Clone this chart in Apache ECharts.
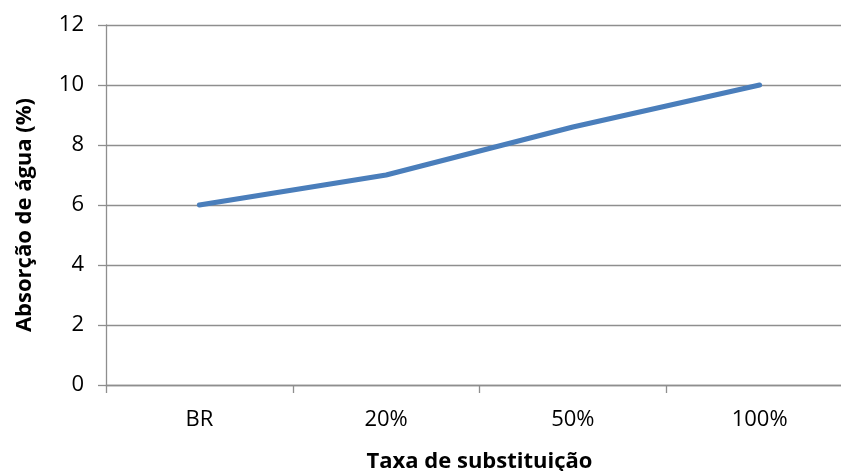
<!DOCTYPE html>
<html>
<head>
<meta charset="utf-8">
<style>
  html, body { margin: 0; padding: 0; background: #ffffff; }
  #chart { width: 841px; height: 471px; }
</style>
<script src="https://cdn.jsdelivr.net/npm/echarts@6/dist/echarts.min.js"></script>
</head>
<body>
<div id="chart"></div>
<script>
// Water absorption by replacement rate
const categories = ['BR', '20%', '50%', '100%'];
const absorcao = [6, 7, 8.6, 10];
const yMin = 0, yMax = 12, yStep = 2;

const gridGray = '#8e8e8e';
const textColor = '#000000';
const fontFamily = '"Open Sans", "Liberation Sans", sans-serif';

const chart = echarts.init(document.getElementById('chart'), null, { renderer: 'canvas' });

chart.setOption({
  animation: false,
  backgroundColor: '#ffffff',
  grid: {
    left: 106, top: 25, width: 747, height: 360,
    containLabel: false,
    outerBoundsMode: 'none'
  },
  xAxis: {
    type: 'category',
    data: categories,
    boundaryGap: true,
    name: 'Taxa de substituição',
    nameLocation: 'middle',
    nameGap: 66,
    nameTextStyle: { color: textColor, fontFamily, fontSize: 22, fontWeight: 'bold' },
    axisLine: { show: true, lineStyle: { color: gridGray, width: 1.3 } },
    axisTick: { show: true, interval: 0, length: 8, lineStyle: { color: gridGray, width: 1.3 } },
    axisLabel: { color: textColor, fontFamily, fontSize: 22, margin: 24 },
    splitLine: { show: false }
  },
  yAxis: {
    type: 'value',
    min: yMin,
    max: yMax,
    interval: yStep,
    name: 'Absorção de água (%)',
    nameLocation: 'middle',
    nameGap: 70,
    nameTextStyle: {
      color: textColor, fontFamily, fontSize: 22, fontWeight: 'bold',
      padding: [0, 20, 0, 0]
    },
    axisLine: { show: true, lineStyle: { color: gridGray, width: 1.3 } },
    axisTick: { show: true, length: 8, lineStyle: { color: gridGray, width: 1.3 } },
    axisLabel: { color: textColor, fontFamily, fontSize: 22, margin: 22 },
    splitLine: { show: true, lineStyle: { color: gridGray, width: 1.3 } }
  },
  series: [{
    type: 'line',
    data: absorcao,
    showSymbol: false,
    symbol: 'none',
    smooth: false,
    lineStyle: { color: '#4a7ebb', width: 5, cap: 'round', join: 'round' },
    itemStyle: { color: '#4a7ebb' }
  }]
});
</script>
</body>
</html>
